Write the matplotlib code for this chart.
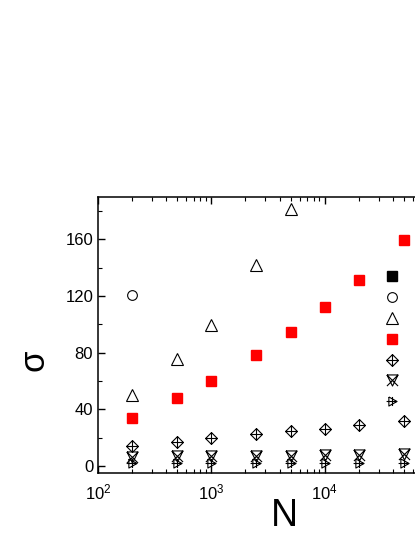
import numpy as np
import matplotlib
matplotlib.use("Agg")
import matplotlib.pyplot as plt
from matplotlib.path import Path

plt.rcParams['font.family'] = ['Liberation Sans', 'DejaVu Sans']
plt.rcParams['mathtext.default'] = 'regular'

# --- data ---
N_all = [200, 500, 1000, 2500, 5000, 10000, 20000, 50000]
N_circle = [200]
sigma_circle = [121]
N_tri = [200, 500, 1000, 2500, 5000]
sigma_tri = [49.8, 75.5, 99.8, 142.3, 181.7]
sigma_red = [34.0, 47.9, 60.2, 78.3, 94.4, 112.6, 131.4, 159.8]
sigma_diam = [14.2, 17.2, 19.6, 22.4, 25.0, 26.4, 28.8, 31.6]
sigma_xtri = [6.4, 6.8, 6.9, 7.2, 7.3, 7.6, 7.9, 8.1]
sigma_rtri = [1.9, 1.9, 2.0, 2.1, 2.1, 2.2, 2.2, 2.3]
x_major = [1e2, 1e3, 1e4]
y_major = [0, 40, 80, 120, 160]

# --- custom open markers (Origin style) ---
M, L = Path.MOVETO, Path.LINETO
diamond_plus = Path(
    [(0, 1), (1, 0), (0, -1), (-1, 0), (0, 1), (-1, 0), (1, 0), (0, -1), (0, 1)],
    [M, L, L, L, L, M, L, M, L])
tri_x = Path(
    [(-1, 1), (1, 1), (0, -1), (-1, 1), (-1, 1), (1, -1), (1, 1), (-1, -1)],
    [M, L, L, L, M, L, M, L])
rtri_plus = Path(
    [(-0.8, 1), (1, 0), (-0.8, -1), (-0.8, 1), (-1.3, 0), (1, 0), (0, -1), (0, 1)],
    [M, L, L, L, M, L, M, L])

fig = plt.figure(figsize=(4.15, 5.37), dpi=100)
ax = fig.add_axes([98 / 415, 1 - 473 / 537, 340 / 415, 276 / 537])

kw = dict(linestyle='none', markerfacecolor='none', markeredgecolor='black',
          markeredgewidth=0.8)
h1, = ax.plot([], [], 's', color='black', markersize=6.5, linestyle='none')
h2, = ax.plot(N_circle, sigma_circle, 'o', markersize=7, **kw)
h3, = ax.plot(N_tri, sigma_tri, '^', markersize=8, **kw)
h4, = ax.plot(N_all, sigma_red, 's', color='red', markersize=6.5, linestyle='none')
h5, = ax.plot(N_all, sigma_diam, marker=diamond_plus, markersize=8.5, **kw)
h6, = ax.plot(N_all, sigma_xtri, marker=tri_x, markersize=8, **kw)
h7, = ax.plot(N_all, sigma_rtri, marker=rtri_plus, markersize=8.5, **kw)

ax.set_xscale('log')
ax.set_xlim(100, 1e5)
ax.set_xticks(x_major)
ax.set_ylim(-5, 190)
ax.set_yticks(y_major)
ax.set_yticks(np.arange(20, 190, 40), minor=True)
ax.tick_params(which='both', direction='in', top=True, right=True, labelsize=12)
ax.tick_params(which='major', length=5, width=1)
ax.tick_params(which='minor', length=3, width=0.8)
ax.tick_params(axis='x', pad=7)
for s in ax.spines.values():
    s.set_linewidth(1.1)

ax.set_xlabel('N', fontsize=27)
ax.xaxis.set_label_coords((284 - 98) / 340, -0.09)
ax.set_ylabel('σ', fontsize=25, rotation=90)
ax.yaxis.set_label_coords(-0.14, (473 - 360) / 276)

leg = ax.legend([h1, h2, h3, h4, h5, h6, h7], [''] * 7, loc='upper left',
                bbox_to_anchor=((384 - 98) / 340, (473 - 270) / 276),
                frameon=False, fontsize=12, handlelength=1.0, numpoints=1,
                borderpad=0, borderaxespad=0, labelspacing=0.35, handletextpad=0.5)

fig.savefig('out.png', dpi=100)
